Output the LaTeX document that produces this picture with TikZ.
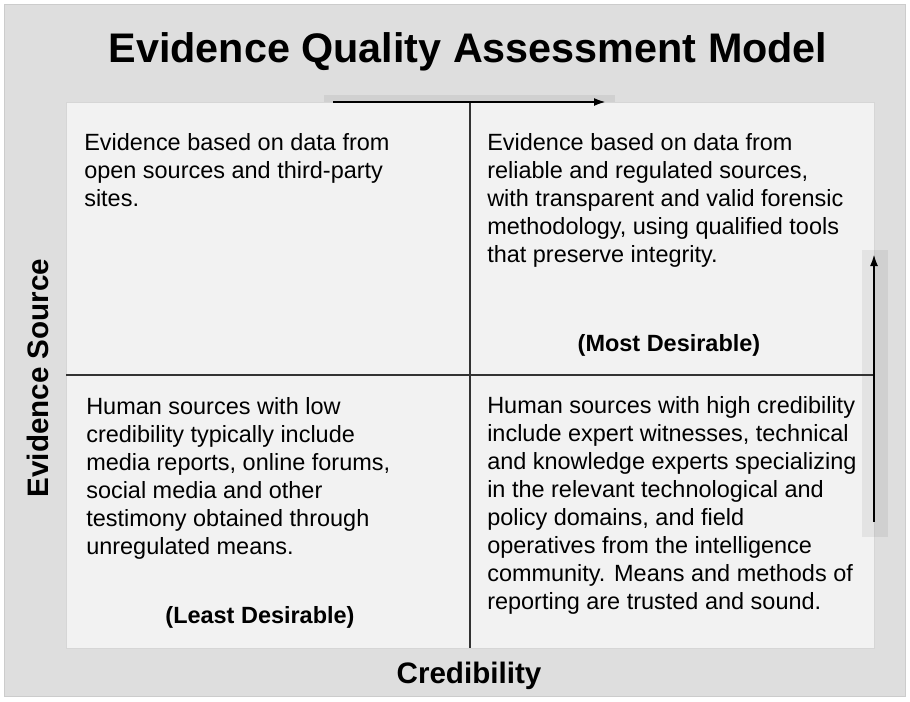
\documentclass[tikz,border=0pt]{standalone}
\usepackage{fontspec}
\setmainfont{Liberation Sans}
\usetikzlibrary{arrows.meta}
\definecolor{bgfill}{HTML}{DEDEDE}
\definecolor{bgline}{HTML}{CCCCCC}
\definecolor{panelfill}{HTML}{F2F2F2}
\definecolor{panelline}{HTML}{D6D6D6}
\definecolor{divline}{HTML}{333333}
\begin{document}
\begin{tikzpicture}[x=0.75pt,y=-0.75pt,
  body/.style={anchor=north west, inner sep=0pt, align=left,
    font=\fontsize{17.6}{21}\selectfont},
  emph/.style={anchor=base, inner sep=0pt, font=\fontsize{17.6}{21}\selectfont\bfseries},
  axislabel/.style={inner sep=0pt, font=\fontsize{22.2}{26}\selectfont\bfseries},
  titlestyle/.style={inner sep=0pt, font=\fontsize{31}{36}\selectfont\bfseries},
  divider/.style={draw=divline, line width=1.3pt},
  axisarrow/.style={draw=black, line width=1.6pt, -{Latex[length=9pt,width=6pt]}},
  band/.style={fill=black, fill opacity=0.06}
]
\useasboundingbox (0,0) rectangle (910,701);
% outer background
\filldraw[fill=bgfill, draw=bgline, line width=0.8pt] (4.5,4.5) rectangle (905.5,696.5);
% inner panel
\filldraw[fill=panelfill, draw=panelline, line width=0.6pt] (66,102) rectangle (874,648);
% highlight bands behind axis arrows
\fill[band] (324,95) rectangle (615,102);
\fill[band] (862,250) rectangle (888,537);

% coordinates
\coordinate (vtop) at (470,102);
\coordinate (vbot) at (470,648);
\coordinate (hleft) at (66,375);
\coordinate (hright) at (874,375);
\coordinate (ta) at (333,102);
\coordinate (tb) at (606,102);
\coordinate (ra) at (874,522);
\coordinate (rb) at (874,254);

% dividers
\draw[divider] (vtop) -- (vbot);
\draw[divider] (hleft) -- (hright);
% axis arrows
\draw[axisarrow] (ta) -- (tb);
\draw[axisarrow] (ra) -- (rb);

% title
\node[titlestyle] (title) at (468,52) {Evidence Quality Assessment Model};

% axis labels
\node[axislabel, rotate=90] (ylab) at (38,378) {Evidence Source};
\node[axislabel] (xlab) at (469,676) {Credibility};

% quadrant texts
\node[body] (tl) at (84,133) {Evidence based on data from\\open sources and third-party\\sites.};
\node[body] (tr) at (487,133) {Evidence based on data from\\reliable and regulated sources,\\with transparent and valid forensic\\methodology, using qualified tools\\that preserve integrity.};
\node[emph] (most) at (669,351) {(Most Desirable)};
\node[body] (bl) at (86,397) {Human sources with low\\credibility typically include\\media reports, online forums,\\social media and other\\testimony obtained through\\unregulated means.};
\node[emph] (least) at (260,623) {(Least Desirable)};
\node[body] (br) at (487,396) {Human sources with high credibility\\include expert witnesses, technical\\and knowledge experts specializing\\in the relevant technological and\\policy domains, and field\\operatives from the intelligence\\community. Means and methods of\\reporting are trusted and sound.};
\end{tikzpicture}
\end{document}
